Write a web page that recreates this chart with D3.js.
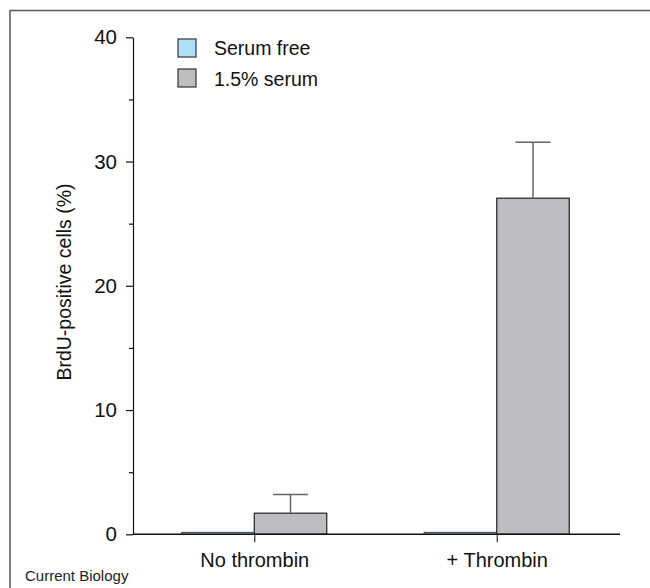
<!DOCTYPE html>
<html>
<head>
<meta charset="utf-8">
<script src="https://cdn.jsdelivr.net/npm/d3@7"></script>
<style>
  body { margin: 0; background: #fff; }
  svg { font-family: 'Liberation Sans', Arial, sans-serif; }
</style>
</head>
<body>
<div id="chart"></div>
<script>
// data
const groups = ['No thrombin', '+ Thrombin'];
const series = ['Serum free', '1.5% serum'];
const serumFree = [0.15, 0.15];
const serumFreeErr = [0, 0];
const serum15 = [1.7, 27.05];
const serum15Err = [1.5, 4.5];
const yTicks = [0, 10, 20, 30, 40];
const yMinorTicks = [5, 15, 25, 35];

const colours = ['#aee0f8', '#bcbdc0'];
const width = 650, height = 588;

const svg = d3.select('#chart').append('svg')
  .attr('width', width)
  .attr('height', height);

// frame (top and left edges only)
svg.append('line').attr('x1', 10).attr('x2', width).attr('y1', 10.5).attr('y2', 10.5)
  .attr('stroke', '#555').attr('stroke-width', 1.5);
svg.append('line').attr('x1', 10).attr('x2', 10).attr('y1', 10).attr('y2', height)
  .attr('stroke', '#555').attr('stroke-width', 1.5);

const x0 = 133, x1 = 620;
const yScale = d3.scaleLinear().domain([0, 40]).range([534.3, 37.3]);
const xScale = d3.scalePoint().domain(groups).range([x0, 618]).padding(0.5);
const subScale = d3.scaleBand().domain(series).range([-72.5, 72.5]);

const rows = groups.map((g, i) => ({
  group: g,
  values: [
    { key: series[0], value: serumFree[i], err: serumFreeErr[i] },
    { key: series[1], value: serum15[i], err: serum15Err[i] },
  ]
}));

const g = svg.selectAll('.group')
  .data(rows)
  .enter()
  .append('g')
  .attr('class', 'group')
  .attr('transform', d => `translate(${xScale(d.group)},0)`);

g.selectAll('rect')
  .data(d => d.values)
  .enter()
  .append('rect')
  .attr('x', d => subScale(d.key))
  .attr('width', subScale.bandwidth())
  .attr('y', d => yScale(d.value))
  .attr('height', d => yScale(0) - yScale(d.value))
  .attr('fill', (d, i) => colours[i])
  .attr('stroke', (d, i) => i === 0 ? '#4a5a66' : '#222')
  .attr('stroke-width', 1.2);

// error bars (upper only)
const errs = g.selectAll('.err')
  .data(d => d.values.filter(v => v.err > 0))
  .enter()
  .append('g')
  .attr('class', 'err')
  .attr('stroke', '#666')
  .attr('stroke-width', 1.5);
errs.append('line')
  .attr('x1', d => subScale(d.key) + subScale.bandwidth() / 2)
  .attr('x2', d => subScale(d.key) + subScale.bandwidth() / 2)
  .attr('y1', d => yScale(d.value))
  .attr('y2', d => yScale(d.value + d.err));
errs.append('line')
  .attr('x1', d => subScale(d.key) + subScale.bandwidth() / 2 - 17.5)
  .attr('x2', d => subScale(d.key) + subScale.bandwidth() / 2 + 17.5)
  .attr('y1', d => yScale(d.value + d.err))
  .attr('y2', d => yScale(d.value + d.err));

// y axis
const yAxis = svg.append('g')
  .attr('transform', `translate(${x0},0)`)
  .call(d3.axisLeft(yScale).tickValues(yTicks).tickSize(7).tickSizeOuter(0).tickPadding(9));
yAxis.select('.domain').attr('stroke', '#111').attr('stroke-width', 1.2);
yAxis.selectAll('.tick line').attr('stroke', '#111').attr('stroke-width', 1.2);
yAxis.selectAll('.tick text').attr('font-size', 20.5).attr('fill', '#111').attr('font-family', null);

const yMinor = svg.append('g')
  .attr('transform', `translate(${x0},0)`)
  .call(d3.axisLeft(yScale).tickValues(yMinorTicks).tickSize(4).tickFormat(''));
yMinor.select('.domain').remove();
yMinor.selectAll('.tick line').attr('stroke', '#111').attr('stroke-width', 1.2);

// x axis
svg.append('line')
  .attr('x1', x0).attr('x2', x1)
  .attr('y1', yScale(0)).attr('y2', yScale(0))
  .attr('stroke', '#111').attr('stroke-width', 1.5);
const xAxis = svg.append('g')
  .attr('transform', `translate(0,${yScale(0)})`)
  .call(d3.axisBottom(xScale).tickSize(8).tickSizeOuter(0).tickPadding(11));
xAxis.select('.domain').remove();
xAxis.selectAll('.tick line').attr('stroke', '#333').attr('stroke-width', 1.2);
xAxis.selectAll('.tick text').attr('font-size', 20).attr('fill', '#111').attr('font-family', null);

// y label
svg.append('text')
  .attr('transform', 'translate(71,282) rotate(-90)')
  .attr('text-anchor', 'middle')
  .attr('font-size', 19.5)
  .attr('fill', '#111')
  .text('BrdU-positive cells (%)');

// legend
const legend = svg.selectAll('.legend')
  .data(series)
  .enter()
  .append('g')
  .attr('class', 'legend')
  .attr('transform', (d, i) => `translate(178,${39 + i * 30})`);
legend.append('rect')
  .attr('width', 18).attr('height', 18)
  .attr('fill', (d, i) => colours[i])
  .attr('stroke', '#333').attr('stroke-width', 1.2);
legend.append('text')
  .attr('x', 36).attr('y', (d, i) => 16 + i * 1)
  .attr('font-size', 19.5)
  .attr('fill', '#111')
  .text(d => d);

svg.append('text')
  .attr('x', 25).attr('y', 581)
  .attr('font-size', 15)
  .attr('fill', '#222')
  .text('Current Biology');
</script>
</body>
</html>
